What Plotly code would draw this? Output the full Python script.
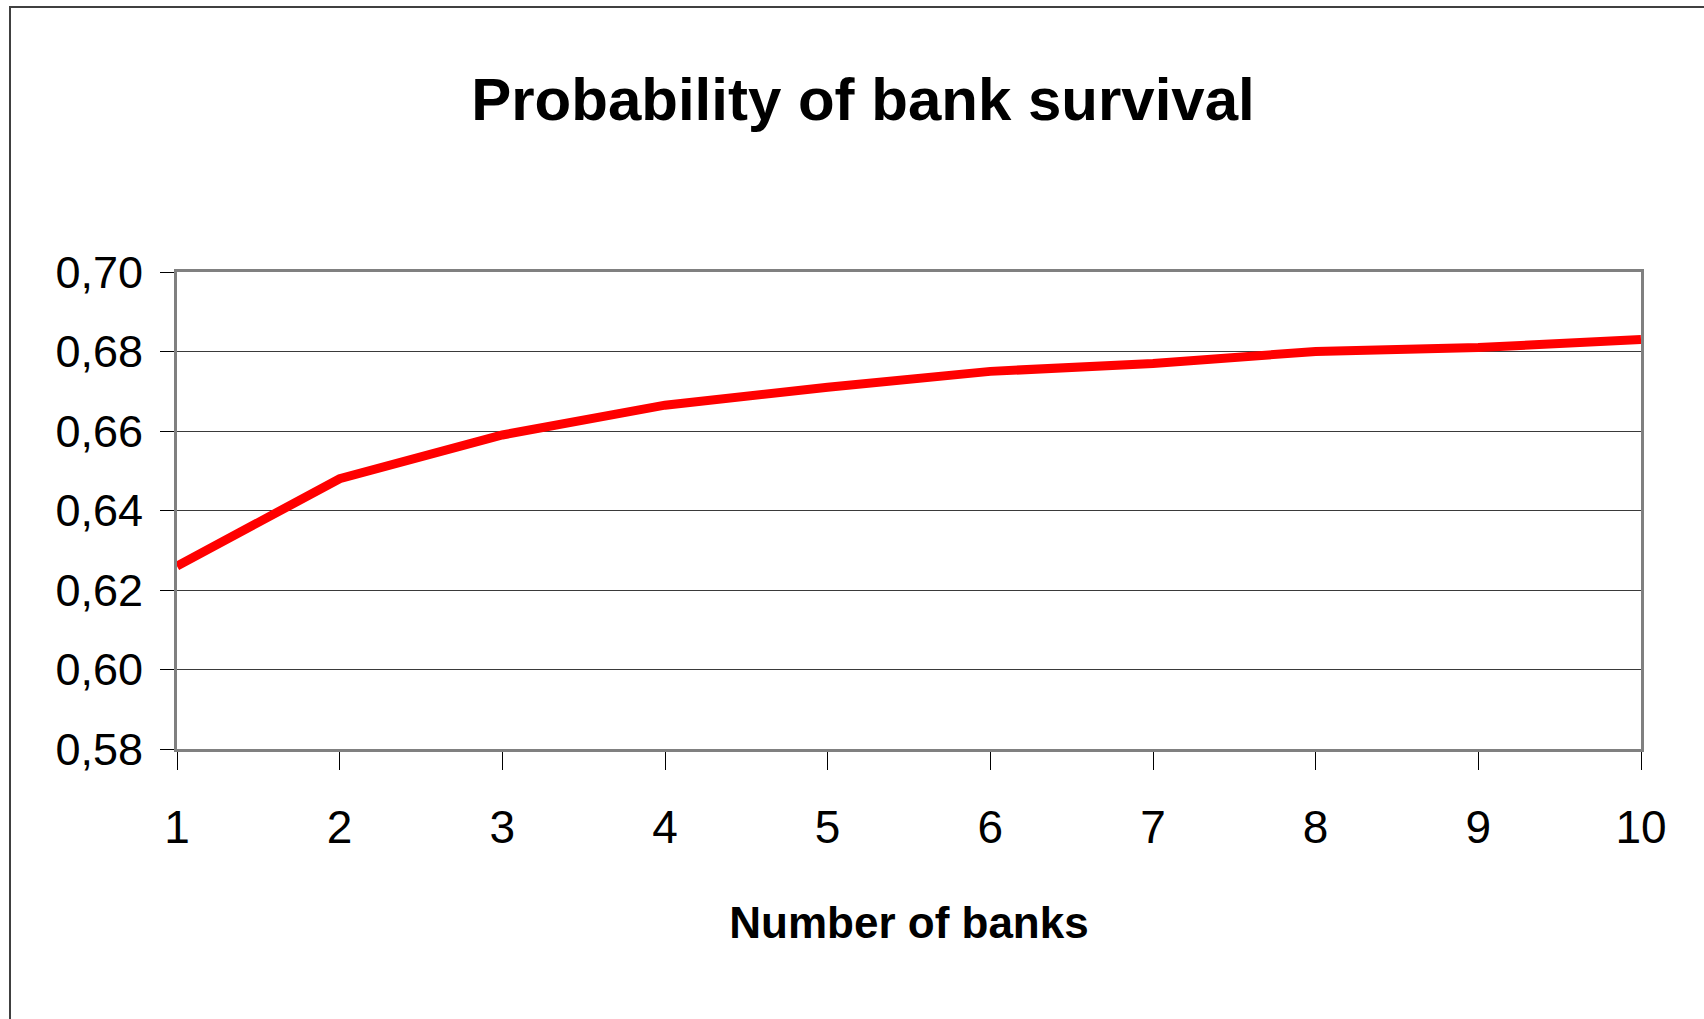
import plotly.graph_objects as go

# Number of banks in the system and the resulting survival probability
banks = [1, 2, 3, 4, 5, 6, 7, 8, 9, 10]
survival_prob = [0.626, 0.648, 0.659, 0.6665, 0.671, 0.675, 0.677, 0.680, 0.681, 0.683]
y_ticks = [0.58, 0.60, 0.62, 0.64, 0.66, 0.68, 0.70]

SANS = "Liberation Sans, Arial, sans-serif"

fig = go.Figure()
fig.add_trace(go.Scatter(
    x=banks, y=survival_prob, mode="lines",
    line=dict(color="#ff0000", width=9),
    showlegend=False, cliponaxis=False,
))

W, H = 1704, 1019
L, R, T, B = 177, 63, 272, 270
pw, ph = W - L - R, H - T - B

def px_to_paper_x(px):
    return (px - L) / pw

def px_to_paper_y(py):
    return (H - B - py) / ph

# Outer chart frame (left and top edges visible)
fig.add_shape(type="rect", xref="paper", yref="paper",
              x0=px_to_paper_x(10), x1=px_to_paper_x(1730),
              y0=px_to_paper_y(1040), y1=px_to_paper_y(7),
              line=dict(color="#404040", width=2), layer="below")

fig.update_layout(
    width=W, height=H,
    margin=dict(l=L, r=R, t=T, b=B),
    paper_bgcolor="white", plot_bgcolor="white",
    separators=",.",
    title=dict(text="Probability of bank survival",
               font=dict(family=SANS, size=60, color="black", weight="bold"),
               x=863 / W, xanchor="center", xref="container",
               y=1 - 99 / H, yanchor="middle", yref="container"),
    xaxis=dict(
        range=[1, 10], tickvals=banks, ticktext=[str(b) for b in banks],
        showgrid=False, zeroline=False,
        showline=True, linecolor="#808080", linewidth=3, mirror=True,
        ticks="outside", ticklen=18, tickwidth=1, tickcolor="black",
        tickfont=dict(family=SANS, size=46, color="black"),
        ticklabelstandoff=18,
        title=dict(text="Number of banks", standoff=55,
                   font=dict(family=SANS, size=44, color="black", weight="bold")),
    ),
    yaxis=dict(
        range=[0.58, 0.70], tickvals=y_ticks, tickformat=".2f",
        showgrid=True, gridcolor="#3a3a3a", gridwidth=1, zeroline=False,
        showline=True, linecolor="#808080", linewidth=3, mirror=True,
        ticks="outside", ticklen=14, tickwidth=1, tickcolor="black",
        tickfont=dict(family=SANS, size=45, color="black"),
        ticklabelstandoff=8,
    ),
)

fig.write_html("out.html")
